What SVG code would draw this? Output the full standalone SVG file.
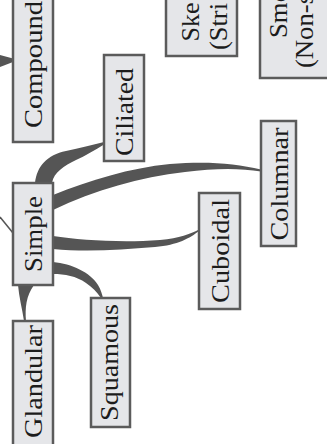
<svg xmlns="http://www.w3.org/2000/svg" width="327" height="444" viewBox="0 0 327 444">
<style>
.box{fill:#e5e6e9;stroke:#5b5b5b;stroke-width:2.5}
.lbl{font-family:"Liberation Serif","Times New Roman",serif;font-size:25px;fill:#1c1c1c}
.br{fill:#555555;stroke:none}
.thin{fill:none;stroke:#555555;stroke-width:1.6}
</style>
<rect width="327" height="444" fill="#ffffff"/>
<g id="connectors">
<path class="br" d="M0,55 L13,58.5 L13,62 L0,67 Z"/>
<path class="thin" d="M0,217 L13,233"/>
<path class="br" d="M35,183 C37,166 47,155 66,151 C80,148 92,145 104,142 L104,144.5 C95,150 85,156 76,160 C64,166 54,172 52,183 Z"/>
<path class="br" d="M53,195 C90,180 130,168 170,164 C205,161 235,163 261,169.5 L261,171.5 C240,168 215,168 185,172 C140,177 95,190 53,210 Z"/>
<path class="br" d="M53,236 C80,240 120,243 160,240 C180,238 190,234 199,229.5 L199,231 C190,238 178,245 155,247 C120,250 85,252 53,249 Z"/>
<path class="br" d="M53,262 C72,264 90,272 98,285 C101,290 102,294 103,298 L101,298 C97,292 92,287 86,283 C76,276 65,274 53,274 Z"/>
<path class="br" d="M18,285 C19,297 22,308 24,321 L26,321 C25,308 26,296 34,285 Z"/>
</g>
<g id="compound">
<rect class="box" x="13" y="-10" width="40" height="152"/>
<text class="lbl" transform="translate(42,64.5) rotate(-90)" text-anchor="middle" textLength="127" lengthAdjust="spacingAndGlyphs">Compound</text>
</g>
<g id="skeletal">
<rect class="box" x="166" y="-10" width="71" height="66"/>
<text class="lbl" transform="translate(199,41.5) rotate(-90)" textLength="39" lengthAdjust="spacingAndGlyphs">Ske</text>
<text class="lbl" transform="translate(227,50) rotate(-90)" textLength="47" lengthAdjust="spacingAndGlyphs">(Stri</text>
</g>
<g id="smooth">
<rect class="box" x="260" y="-10" width="80" height="88"/>
<text class="lbl" transform="translate(287,38) rotate(-90)" textLength="49" lengthAdjust="spacingAndGlyphs">Smo</text>
<text class="lbl" transform="translate(313,68) rotate(-90)" textLength="74" lengthAdjust="spacingAndGlyphs">(Non-s</text>
</g>
<g id="ciliated">
<rect class="box" x="104" y="55" width="40" height="106"/>
<text class="lbl" transform="translate(133,112) rotate(-90)" text-anchor="middle" textLength="88" lengthAdjust="spacingAndGlyphs">Ciliated</text>
</g>
<g id="simple">
<rect class="box" x="13" y="183" width="40" height="102"/>
<text class="lbl" transform="translate(42,234) rotate(-90)" text-anchor="middle" textLength="76" lengthAdjust="spacingAndGlyphs">Simple</text>
</g>
<g id="columnar">
<rect class="box" x="261" y="121" width="35" height="125"/>
<text class="lbl" transform="translate(288,184) rotate(-90)" text-anchor="middle" textLength="113" lengthAdjust="spacingAndGlyphs">Columnar</text>
</g>
<g id="cuboidal">
<rect class="box" x="199" y="193" width="41" height="116"/>
<text class="lbl" transform="translate(229,251) rotate(-90)" text-anchor="middle" textLength="104" lengthAdjust="spacingAndGlyphs">Cuboidal</text>
</g>
<g id="squamous">
<rect class="box" x="91" y="298" width="39" height="129"/>
<text class="lbl" transform="translate(118,362.5) rotate(-90)" text-anchor="middle" textLength="117" lengthAdjust="spacingAndGlyphs">Squamous</text>
</g>
<g id="glandular">
<rect class="box" x="13" y="321" width="40" height="130"/>
<text class="lbl" transform="translate(42,381.5) rotate(-90)" text-anchor="middle" textLength="113" lengthAdjust="spacingAndGlyphs">Glandular</text>
</g>
</svg>
